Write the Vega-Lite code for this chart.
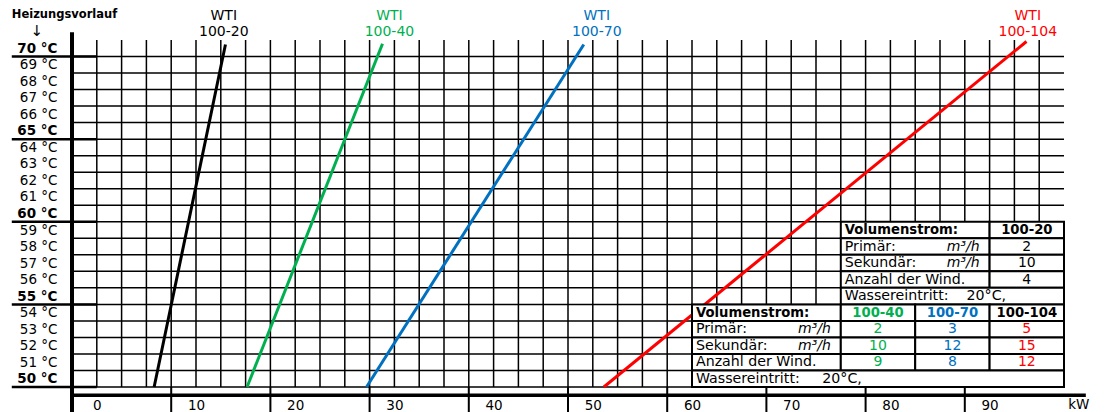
{
  "$schema": "https://vega.github.io/schema/vega-lite/v6.json",
  "width": 992,
  "height": 347,
  "autosize": "none",
  "padding": {"left": 72, "top": 40, "right": 41, "bottom": 25},
  "background": "white",
  "config": {"font": "DejaVu Sans", "view": {"stroke": null},
             "axis": {"labelOverlap": false, "labelBound": false, "labelFlush": false}},
  "datasets": {
    "gitter_x": [{"kw":0},{"kw":2.5},{"kw":5},{"kw":7.5},{"kw":10},{"kw":12.5},{"kw":15},{"kw":17.5},{"kw":20},{"kw":22.5},{"kw":25},{"kw":27.5},{"kw":30},{"kw":32.5},{"kw":35},{"kw":37.5},{"kw":40},{"kw":42.5},{"kw":45},{"kw":47.5},{"kw":50},{"kw":52.5},{"kw":55},{"kw":57.5},{"kw":60},{"kw":62.5},{"kw":65},{"kw":67.5},{"kw":70},{"kw":72.5},{"kw":75},{"kw":77.5},{"kw":80},{"kw":82.5},{"kw":85},{"kw":87.5},{"kw":90},{"kw":92.5},{"kw":95}],
    "gitter_y": [{"temp":49.5},{"temp":50.5},{"temp":51.5},{"temp":52.5},{"temp":53.5},{"temp":54.5},{"temp":55.5},{"temp":56.5},{"temp":57.5},{"temp":58.5},{"temp":59.5},{"temp":60.5},{"temp":61.5},{"temp":62.5},{"temp":63.5},{"temp":64.5},{"temp":65.5},{"temp":66.5},{"temp":67.5},{"temp":68.5},{"temp":69.5}],
    "haupt_y": [{"temp":69.5},{"temp":64.5},{"temp":59.5},{"temp":54.5},{"temp":49.5}],
    "trenner": [{"kw":7.5},{"kw":17.5},{"kw":27.5},{"kw":37.5},{"kw":47.5},{"kw":57.5},{"kw":67.5},{"kw":77.5},{"kw":87.5}],
    "linien": [
      {"serie":"100-20","kw":5.78,"temp":49.5},{"serie":"100-20","kw":12.97,"temp":70.23},
      {"serie":"100-40","kw":15.15,"temp":49.5},{"serie":"100-40","kw":28.8,"temp":70.27},
      {"serie":"100-70","kw":27.19,"temp":49.5},{"serie":"100-70","kw":49.09,"temp":70.23},
      {"serie":"100-104","kw":51.11,"temp":49.5},{"serie":"100-104","kw":93.72,"temp":70.41}
    ],
    "wti": [
      {"serie":"100-20","text":"WTI\n100-20","kw":12.8,"temp":71.97},
      {"serie":"100-40","text":"WTI\n100-40","kw":29.5,"temp":71.97},
      {"serie":"100-70","text":"WTI\n100-70","kw":50.4,"temp":71.97},
      {"serie":"100-104","text":"WTI\n100-104","kw":93.85,"temp":71.97}
    ],
    "zellen": [
      {"x1":75,"x2":90,"t1":58.5,"t2":59.5},{"x1":90,"x2":97.5,"t1":58.5,"t2":59.5},
      {"x1":75,"x2":90,"t1":57.5,"t2":58.5},{"x1":90,"x2":97.5,"t1":57.5,"t2":58.5},
      {"x1":75,"x2":90,"t1":56.5,"t2":57.5},{"x1":90,"x2":97.5,"t1":56.5,"t2":57.5},
      {"x1":75,"x2":90,"t1":55.5,"t2":56.5},{"x1":90,"x2":97.5,"t1":55.5,"t2":56.5},
      {"x1":75,"x2":97.5,"t1":54.5,"t2":55.5},
      {"x1":60,"x2":75,"t1":53.5,"t2":54.5},{"x1":75,"x2":82.5,"t1":53.5,"t2":54.5},{"x1":82.5,"x2":90,"t1":53.5,"t2":54.5},{"x1":90,"x2":97.5,"t1":53.5,"t2":54.5},
      {"x1":60,"x2":75,"t1":52.5,"t2":53.5},{"x1":75,"x2":82.5,"t1":52.5,"t2":53.5},{"x1":82.5,"x2":90,"t1":52.5,"t2":53.5},{"x1":90,"x2":97.5,"t1":52.5,"t2":53.5},
      {"x1":60,"x2":75,"t1":51.5,"t2":52.5},{"x1":75,"x2":82.5,"t1":51.5,"t2":52.5},{"x1":82.5,"x2":90,"t1":51.5,"t2":52.5},{"x1":90,"x2":97.5,"t1":51.5,"t2":52.5},
      {"x1":60,"x2":75,"t1":50.5,"t2":51.5},{"x1":75,"x2":82.5,"t1":50.5,"t2":51.5},{"x1":82.5,"x2":90,"t1":50.5,"t2":51.5},{"x1":90,"x2":97.5,"t1":50.5,"t2":51.5},
      {"x1":60,"x2":97.5,"t1":49.5,"t2":50.5}
    ],
    "tabelle": [
      {"text":"Volumenstrom:","kw":75.4,"temp":59,"rolle":"kopf_links"},
      {"text":"100-20","kw":93.75,"temp":59,"rolle":"kopf","serie":"100-20"},
      {"text":"Primär:","kw":75.4,"temp":58,"rolle":"links"},
      {"text":"m³/h","kw":89,"temp":58,"rolle":"einheit"},
      {"text":"2","kw":93.75,"temp":58,"rolle":"wert","serie":"100-20"},
      {"text":"Sekundär:","kw":75.4,"temp":57,"rolle":"links"},
      {"text":"m³/h","kw":89,"temp":57,"rolle":"einheit"},
      {"text":"10","kw":93.75,"temp":57,"rolle":"wert","serie":"100-20"},
      {"text":"Anzahl der Wind.","kw":75.4,"temp":56,"rolle":"links"},
      {"text":"4","kw":93.75,"temp":56,"rolle":"wert","serie":"100-20"},
      {"text":"Wassereintritt:\u00a0\u00a0\u00a0 20°C,","kw":75.4,"temp":55,"rolle":"links"},
      {"text":"Volumenstrom:","kw":60.4,"temp":54,"rolle":"kopf_links"},
      {"text":"100-40","kw":78.75,"temp":54,"rolle":"kopf","serie":"100-40"},
      {"text":"100-70","kw":86.25,"temp":54,"rolle":"kopf","serie":"100-70"},
      {"text":"100-104","kw":93.75,"temp":54,"rolle":"kopf","serie":"100-104"},
      {"text":"Primär:","kw":60.4,"temp":53,"rolle":"links"},
      {"text":"m³/h","kw":74,"temp":53,"rolle":"einheit"},
      {"text":"2","kw":78.75,"temp":53,"rolle":"wert","serie":"100-40"},
      {"text":"3","kw":86.25,"temp":53,"rolle":"wert","serie":"100-70"},
      {"text":"5","kw":93.75,"temp":53,"rolle":"wert","serie":"100-104"},
      {"text":"Sekundär:","kw":60.4,"temp":52,"rolle":"links"},
      {"text":"m³/h","kw":74,"temp":52,"rolle":"einheit"},
      {"text":"10","kw":78.75,"temp":52,"rolle":"wert","serie":"100-40"},
      {"text":"12","kw":86.25,"temp":52,"rolle":"wert","serie":"100-70"},
      {"text":"15","kw":93.75,"temp":52,"rolle":"wert","serie":"100-104"},
      {"text":"Anzahl der Wind.","kw":60.4,"temp":51,"rolle":"links"},
      {"text":"9","kw":78.75,"temp":51,"rolle":"wert","serie":"100-40"},
      {"text":"8","kw":86.25,"temp":51,"rolle":"wert","serie":"100-70"},
      {"text":"12","kw":93.75,"temp":51,"rolle":"wert","serie":"100-104"},
      {"text":"Wassereintritt:\u00a0\u00a0\u00a0\u00a0 20°C,","kw":60.4,"temp":50,"rolle":"links"}
    ]
  },
  "layer": [
    {
      "data": {"name": "gitter_y"},
      "mark": {"type": "rule", "color": "black", "strokeWidth": 1.5},
      "encoding": {
        "y": {"field": "temp", "type": "quantitative", "scale": {"domain": [49.5, 70.5], "nice": false, "zero": false},
              "axis": {"values": [50,51,52,53,54,55,56,57,58,59,60,61,62,63,64,65,66,67,68,69,70], "tickCount": 30, "title": null, "domain": false, "ticks": false, "grid": false,
                       "labelPadding": 15, "labelFontSize": 13.5, "labelColor": "black", "labelFont": "DejaVu Sans", "labelOverlap": false,
                       "labelExpr": "datum.value + ' °C'",
                       "labelFontWeight": {"condition": {"test": "datum.value % 5 === 0", "value": "bold"}, "value": "normal"}}}
      }
    },
    {
      "data": {"name": "gitter_x"},
      "mark": {"type": "rule", "color": "black", "strokeWidth": 1.5},
      "encoding": {
        "x": {"field": "kw", "type": "quantitative", "scale": {"domain": [-2.5, 97.5], "nice": false, "zero": false},
              "axis": {"values": [0,10,20,30,40,50,60,70,80,90], "tickCount": 30, "title": null, "domain": false, "ticks": false, "grid": false,
                       "labelPadding": 11, "labelFontSize": 13.5, "labelColor": "black", "labelFont": "DejaVu Sans", "labelOverlap": false}}
      }
    },
    {
      "data": {"name": "haupt_y"},
      "mark": {"type": "rule", "color": "black", "strokeWidth": 2.5},
      "encoding": {
        "x": {"datum": -8.57, "type": "quantitative", "title": null},
        "x2": {"datum": 0},
        "y": {"field": "temp", "type": "quantitative", "title": null}
      }
    },
    {
      "data": {"name": "linien"},
      "mark": {"type": "line", "strokeWidth": 3},
      "encoding": {
        "x": {"field": "kw", "type": "quantitative", "title": null},
        "y": {"field": "temp", "type": "quantitative", "title": null},
        "color": {"field": "serie", "type": "nominal", "legend": null,
                  "scale": {"domain": ["100-20","100-40","100-70","100-104"], "range": ["#000000","#00B050","#0070C0","#FF0000"]}}
      }
    },
    {
      "data": {"name": "zellen"},
      "mark": {"type": "rect", "fill": "white", "stroke": "black", "strokeWidth": 2},
      "encoding": {
        "x": {"field": "x1", "type": "quantitative", "title": null},
        "x2": {"field": "x2"},
        "y": {"field": "t1", "type": "quantitative", "title": null},
        "y2": {"field": "t2"}
      }
    },
    {
      "data": {"name": "tabelle"},
      "transform": [{"filter": "datum.rolle === 'links'"}],
      "mark": {"type": "text", "align": "left", "baseline": "middle", "fontSize": 14.2, "color": "black"},
      "encoding": {
        "x": {"field": "kw", "type": "quantitative", "title": null},
        "y": {"field": "temp", "type": "quantitative", "title": null},
        "text": {"field": "text"}
      }
    },
    {
      "data": {"name": "tabelle"},
      "transform": [{"filter": "datum.rolle === 'kopf_links'"}],
      "mark": {"type": "text", "align": "left", "baseline": "middle", "fontSize": 13.2, "fontWeight": "bold", "color": "black"},
      "encoding": {
        "x": {"field": "kw", "type": "quantitative", "title": null},
        "y": {"field": "temp", "type": "quantitative", "title": null},
        "text": {"field": "text"}
      }
    },
    {
      "data": {"name": "tabelle"},
      "transform": [{"filter": "datum.rolle === 'einheit'"}],
      "mark": {"type": "text", "align": "right", "baseline": "middle", "fontSize": 14, "fontStyle": "italic", "color": "black"},
      "encoding": {
        "x": {"field": "kw", "type": "quantitative", "title": null},
        "y": {"field": "temp", "type": "quantitative", "title": null},
        "text": {"field": "text"}
      }
    },
    {
      "data": {"name": "tabelle"},
      "transform": [{"filter": "datum.rolle === 'wert'"}],
      "mark": {"type": "text", "align": "center", "baseline": "middle", "fontSize": 14},
      "encoding": {
        "x": {"field": "kw", "type": "quantitative", "title": null},
        "y": {"field": "temp", "type": "quantitative", "title": null},
        "text": {"field": "text"},
        "color": {"field": "serie", "type": "nominal", "legend": null}
      }
    },
    {
      "data": {"name": "tabelle"},
      "transform": [{"filter": "datum.rolle === 'kopf'"}],
      "mark": {"type": "text", "align": "center", "baseline": "middle", "fontSize": 13.2, "fontWeight": "bold"},
      "encoding": {
        "x": {"field": "kw", "type": "quantitative", "title": null},
        "y": {"field": "temp", "type": "quantitative", "title": null},
        "text": {"field": "text"},
        "color": {"condition": {"test": "datum.serie === '100-104'", "value": "black"},
                  "field": "serie", "type": "nominal", "legend": null}
      }
    },
    {
      "data": {"name": "wti"},
      "mark": {"type": "text", "align": "center", "baseline": "middle", "fontSize": 14, "lineBreak": "\n", "lineHeight": 16},
      "encoding": {
        "x": {"field": "kw", "type": "quantitative", "title": null},
        "y": {"field": "temp", "type": "quantitative", "title": null},
        "text": {"field": "text"},
        "color": {"field": "serie", "type": "nominal", "legend": null}
      }
    },
    {
      "data": {"values": [{"text": "Heizungsvorlauf"}]},
      "mark": {"type": "text", "align": "left", "baseline": "middle", "fontSize": 11.5, "fontWeight": "bold", "color": "black"},
      "encoding": {
        "x": {"datum": -8.57, "type": "quantitative", "title": null},
        "y": {"datum": 72.04, "type": "quantitative", "title": null},
        "text": {"field": "text"}
      }
    },
    {
      "data": {"values": [{"text": "↓"}]},
      "mark": {"type": "text", "align": "center", "baseline": "middle", "fontSize": 15, "color": "black"},
      "encoding": {
        "x": {"datum": -6.05, "type": "quantitative", "title": null},
        "y": {"datum": 71.02, "type": "quantitative", "title": null},
        "text": {"field": "text"}
      }
    },
    {
      "data": {"values": [{"text": "kW"}]},
      "mark": {"type": "text", "align": "center", "baseline": "middle", "fontSize": 13.5, "color": "black"},
      "encoding": {
        "x": {"datum": 99, "type": "quantitative", "title": null},
        "y": {"datum": 48.4, "type": "quantitative", "title": null},
        "text": {"field": "text"}
      }
    },
    {
      "data": {"name": "trenner"},
      "mark": {"type": "rule", "color": "black", "strokeWidth": 2},
      "encoding": {
        "x": {"field": "kw", "type": "quantitative", "title": null},
        "y": {"datum": 49.5, "type": "quantitative", "title": null},
        "y2": {"datum": 47.97}
      }
    },
    {
      "data": {"values": [{}]},
      "mark": {"type": "rule", "color": "black", "strokeWidth": 3.5},
      "encoding": {
        "x": {"datum": -2.5, "type": "quantitative", "title": null},
        "x2": {"datum": 99.7},
        "y": {"datum": 49.0, "type": "quantitative", "title": null}
      }
    },
    {
      "data": {"values": [{}]},
      "mark": {"type": "rule", "color": "black", "strokeWidth": 4},
      "encoding": {
        "x": {"datum": -2.5, "type": "quantitative", "title": null},
        "y": {"datum": 70.97, "type": "quantitative", "title": null},
        "y2": {"datum": 47.97}
      }
    }
  ]
}
